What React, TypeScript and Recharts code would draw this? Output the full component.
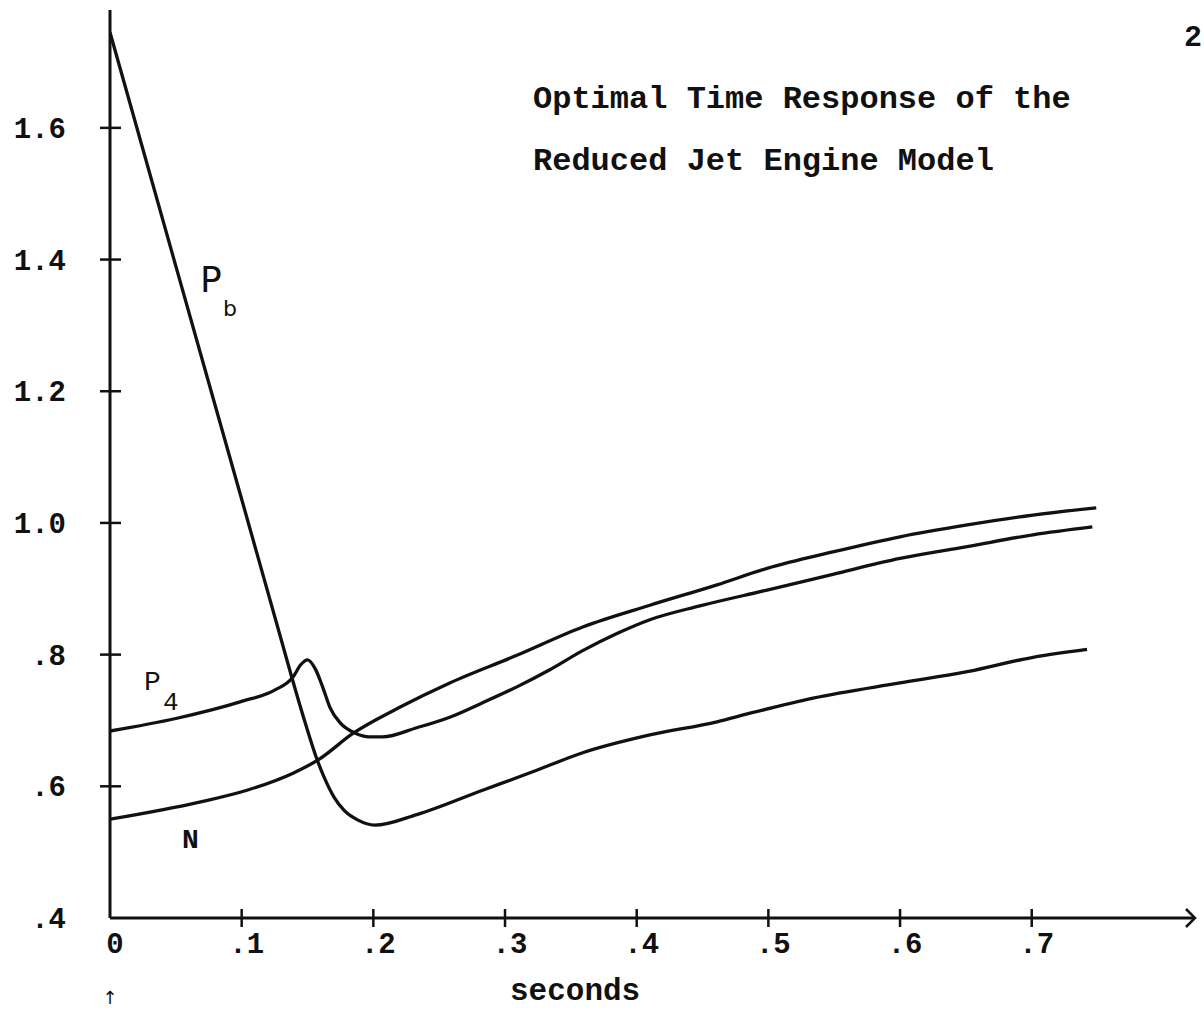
import React from 'react';
import { LineChart, Line, XAxis, YAxis } from 'recharts';

// ---- data (time in seconds, normalized values) ----
const pbTime = [0, 0.05, 0.10, 0.13, 0.138, 0.148, 0.157, 0.163, 0.170, 0.178, 0.188, 0.201, 0.233, 0.283, 0.321, 0.359, 0.410, 0.461, 0.486, 0.534, 0.600, 0.651, 0.701, 0.742];
const pbValue = [1.745, 1.390, 1.036, 0.823, 0.766, 0.698, 0.642, 0.612, 0.584, 0.563, 0.549, 0.541, 0.557, 0.594, 0.622, 0.651, 0.678, 0.698, 0.711, 0.734, 0.757, 0.774, 0.796, 0.808];

const p4Time = [0, 0.05, 0.10, 0.125, 0.139, 0.145, 0.150, 0.156, 0.162, 0.167, 0.175, 0.186, 0.197, 0.207, 0.233, 0.258, 0.283, 0.309, 0.334, 0.359, 0.385, 0.410, 0.448, 0.499, 0.549, 0.600, 0.651, 0.701, 0.746];
const p4Value = [0.684, 0.703, 0.729, 0.746, 0.766, 0.785, 0.792, 0.778, 0.748, 0.720, 0.696, 0.681, 0.675, 0.675, 0.689, 0.705, 0.727, 0.751, 0.777, 0.806, 0.832, 0.853, 0.874, 0.898, 0.922, 0.946, 0.964, 0.982, 0.994];

const nTime = [0, 0.068, 0.104, 0.139, 0.158, 0.185, 0.220, 0.258, 0.309, 0.359, 0.410, 0.461, 0.499, 0.549, 0.600, 0.651, 0.701, 0.749];
const nValue = [0.550, 0.576, 0.594, 0.620, 0.640, 0.681, 0.720, 0.757, 0.799, 0.842, 0.875, 0.906, 0.931, 0.956, 0.979, 0.997, 1.012, 1.023];

const xTicks = [0, 0.1, 0.2, 0.3, 0.4, 0.5, 0.6, 0.7];
const xTickLabels = ['0', '.1', '.2', '.3', '.4', '.5', '.6', '.7'];
const yTicks = [0.4, 0.6, 0.8, 1.0, 1.2, 1.4, 1.6];
const yTickLabels = ['.4', '.6', '.8', '1.0', '1.2', '1.4', '1.6'];

const titleLines = ['Optimal Time Response of the', 'Reduced Jet Engine Model'];
const xAxisTitle = 'seconds';
const pageNumber = '2';

const pbData = pbTime.map((t, i) => ({ t, v: pbValue[i] }));
const p4Data = p4Time.map((t, i) => ({ t, v: p4Value[i] }));
const nData = nTime.map((t, i) => ({ t, v: nValue[i] }));

const FONT = '"Liberation Mono", "DejaVu Sans Mono", monospace';
const INK = '#111';

const AXIS_X = 110;
const AXIS_Y = 918;

const YTick = (props: any) => {
  const { y, payload } = props;
  const idx = yTicks.indexOf(payload.value);
  const label = idx >= 0 ? yTickLabels[idx] : String(payload.value);
  return (
    <g>
      {payload.value !== 0.4 && (
        <line x1={AXIS_X - 10} x2={AXIS_X + 11} y1={y} y2={y} stroke={INK} strokeWidth={2.5} />
      )}
      <text x={66} y={y + 10} textAnchor="end" fontFamily={FONT} fontWeight="bold" fontSize={29} fill={INK}>
        {label}
      </text>
    </g>
  );
};

const XTick = (props: any) => {
  const { x, payload } = props;
  const idx = xTicks.indexOf(payload.value);
  const label = idx >= 0 ? xTickLabels[idx] : String(payload.value);
  return (
    <g>
      {payload.value !== 0 && (
        <line x1={x} x2={x} y1={AXIS_Y - 9} y2={AXIS_Y + 9} stroke={INK} strokeWidth={2.5} />
      )}
      <text x={x + 5} y={953} textAnchor="middle" fontFamily={FONT} fontWeight="bold" fontSize={29} fill={INK}>
        {label}
      </text>
    </g>
  );
};

const XAxisLabel = (props: any) => {
  const vb = props.viewBox || {};
  const right = (vb.x || 0) + (vb.width || 0);
  const y = vb.y || AXIS_Y;
  return (
    <g>
      <polyline
        points={`${right - 9},${y - 9} ${right},${y} ${right - 9},${y + 9}`}
        fill="none"
        stroke={INK}
        strokeWidth={2.5}
      />
      <text x={510} y={1000} fontFamily={FONT} fontWeight="bold" fontSize={31} fill={INK}>
        {xAxisTitle}
      </text>
    </g>
  );
};

export default function App() {
  return (
    <div style={{ position: 'absolute', left: 0, top: 0, width: 1204, height: 1010, background: '#fff' }}>
      <LineChart width={1204} height={1010} margin={{ top: 10, right: 9, bottom: 0, left: 0 }}>
        <XAxis
          type="number"
          dataKey="t"
          domain={[0, 0.824]}
          ticks={xTicks}
          allowDataOverflow
          height={92}
          tickLine={false}
          axisLine={{ stroke: INK, strokeWidth: 3 }}
          tick={<XTick />}
          interval={0}
          label={<XAxisLabel />}
        />
        <YAxis
          type="number"
          dataKey="v"
          domain={[0.4, 1.779]}
          ticks={yTicks}
          allowDataOverflow
          width={110}
          tickLine={false}
          axisLine={{ stroke: INK, strokeWidth: 3 }}
          tick={<YTick />}
          interval={0}
        />
        <Line data={pbData} dataKey="v" type="monotone" stroke={INK} strokeWidth={3.3} dot={false} isAnimationActive={false} />
        <Line data={p4Data} dataKey="v" type="monotone" stroke={INK} strokeWidth={3.3} dot={false} isAnimationActive={false} />
        <Line data={nData} dataKey="v" type="monotone" stroke={INK} strokeWidth={3.3} dot={false} isAnimationActive={false} />
      </LineChart>
      <svg
        width={1204}
        height={1010}
        style={{ position: 'absolute', left: 0, top: 0, pointerEvents: 'none' }}
      >
        <text x={533} y={108} fontFamily={FONT} fontWeight="bold" fontSize={32} fill={INK}>{titleLines[0]}</text>
        <text x={533} y={170} fontFamily={FONT} fontWeight="bold" fontSize={32} fill={INK}>{titleLines[1]}</text>
        <text x={1184} y={46} fontFamily={FONT} fontWeight="bold" fontSize={30} fill={INK}>{pageNumber}</text>
        <text x={200} y={292} fontFamily='"DejaVu Sans", sans-serif' fontSize={36} fill={INK}>P</text>
        <text x={223} y={316} fontFamily='"DejaVu Sans", sans-serif' fontSize={22} fill={INK}>b</text>
        <text x={144} y={690} fontFamily={FONT} fontSize={28} fill={INK}>P</text>
        <text x={163} y={710} fontFamily={FONT} fontSize={26} fill={INK}>4</text>
        <text x={182} y={848} fontFamily={FONT} fontWeight="bold" fontSize={28} fill={INK}>N</text>
        <text x={110} y={1004} textAnchor="middle" fontFamily='"DejaVu Sans", sans-serif' fontSize={18} fill={INK}>↑</text>
      </svg>
    </div>
  );
}
